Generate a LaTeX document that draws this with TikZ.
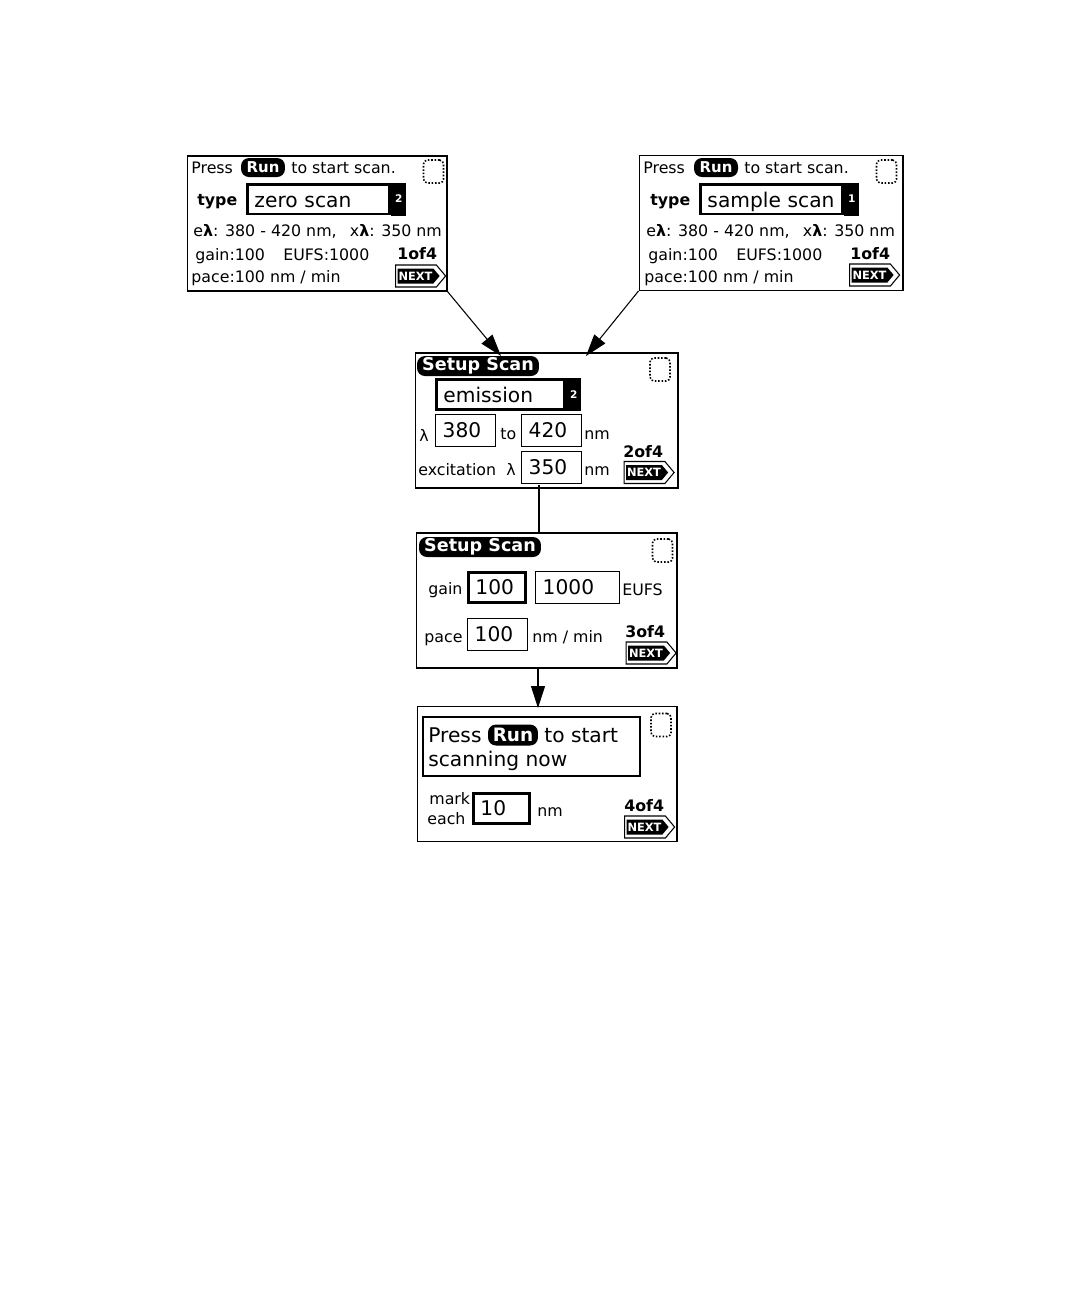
\documentclass[tikz,border=0pt]{standalone}
\usepackage{fontspec}
\setmainfont{DejaVu Sans}
\usetikzlibrary{positioning, arrows.meta, shapes.symbols}

\tikzset{
    panel/.style={draw, rectangle, line width=0.6pt, minimum width=#1, minimum height=2.7cm, inner sep=0pt},
    lbl/.style={anchor=west, inner sep=0pt, text height=0.23cm, text depth=0pt, font=\fontsize{9}{10}\selectfont},
    biglbl/.style={lbl, text height=0.29cm, font=\fontsize{11.5}{13}\selectfont},
    boldlbl/.style={lbl, text height=0.2cm, font=\fontsize{9}{10}\bfseries\selectfont},
    pill/.style={fill=black, text=white, rectangle, rounded corners=0.16cm, inner sep=0pt, font=\fontsize{8.5}{10}\bfseries\selectfont},
    setuppill/.style={pill, minimum width=2.44cm, minimum height=0.4cm, font=\fontsize{10}{11}\bfseries\selectfont},
    tickbox/.style={draw, densely dotted, line width=0.9pt, rectangle, rounded corners=0.08cm, minimum width=0.4cm, minimum height=0.46cm, inner sep=0pt},
    valbox/.style={draw, rectangle, line width=0.8pt, anchor=west, text width=#1, inner xsep=0.14cm, inner ysep=0pt, minimum height=0.64cm, font=\fontsize{11.5}{13}\selectfont},
    boldbox/.style={valbox=#1, line width=1.7pt, minimum height=0.6cm},
    listbox/.style={boldbox=#1, text height=0.32cm, text depth=0pt},
    listtab/.style={fill=black, text=white, rectangle, minimum width=0.3cm, minimum height=0.66cm, inner sep=0pt, font=\fontsize{6}{7}\bfseries\selectfont},
    flow/.style={-{Triangle[length=0.44cm, width=0.28cm]}, line width=0.6pt},
    pics/nextbtn/.style={code={
        \node[draw, signal, signal to=east, signal pointer angle=100, line width=0.6pt, minimum width=1cm, minimum height=0.44cm, inner sep=0pt] (-outer) at (0,0) {};
        \node[fill=black, text=white, signal, signal to=east, signal pointer angle=100, minimum width=0.84cm, minimum height=0.3cm, inner sep=0pt, font=\fontsize{6.5}{7}\bfseries\selectfont] (-inner) at (-0.5,0) {NEXT};
    }},
}

\begin{document}
\begin{tikzpicture}[x=0.02cm, y=-0.02cm]
    \useasboundingbox (0,0) rectangle (1080,1296);

    % Zero scan panel
    \node[panel=5.2cm] (panelzero) at (317,223.5) {};
    \node[lbl] (presszero) at (191,168) {Press};
    \node[pill, minimum width=0.88cm, minimum height=0.38cm] (runzero) at (263,167.5) {Run};
    \node[lbl] (startzero) at (291,168) {to start scan.};
    \node[tickbox] (tickzero) at (433.5,171.5) {};
    \node[boldlbl] (typezero) at (197,200) {type};
    \node[listbox=2.56cm] (listzero) at (246,199) {zero scan};
    \node[listtab, right=0pt of listzero] (tabzero) {2};
    \node[lbl] (rangezero) at (193,231) {e\textbf{λ}: 380 - 420 nm,\enspace\kern3pt x\textbf{λ}: 350 nm};
    \node[lbl] (gainzero) at (195,255) {gain:100};
    \node[lbl] (eufszero) at (283,255) {EUFS:1000};
    \node[boldlbl] (pagezero) at (397,254) {1of4};
    \pic (nextzero) at (416,276) {nextbtn};
    \node[lbl] (pacezero) at (191,277) {pace:100 nm / min};

    % Sample scan panel
    \node[panel=5.28cm] (panelsample) at (771,223) {};
    \node[lbl] (presssample) at (643,168) {Press};
    \node[pill, minimum width=0.88cm, minimum height=0.38cm] (runsample) at (716,167.5) {Run};
    \node[lbl] (startsample) at (744,168) {to start scan.};
    \node[tickbox] (ticksample) at (886.5,171.5) {};
    \node[boldlbl] (typesample) at (650,200) {type};
    \node[listbox=2.56cm] (listsample) at (699,199) {sample scan};
    \node[listtab, right=0pt of listsample] (tabsample) {1};
    \node[lbl] (rangesample) at (646,231) {e\textbf{λ}: 380 - 420 nm,\enspace\kern3pt x\textbf{λ}: 350 nm};
    \node[lbl] (gainsample) at (648,255) {gain:100};
    \node[lbl] (eufssample) at (736,255) {EUFS:1000};
    \node[boldlbl] (pagesample) at (850,254) {1of4};
    \pic (nextsample) at (870,275) {nextbtn};
    \node[lbl] (pacesample) at (644,277) {pace:100 nm / min};

    % Range panel
    \node[panel=5.26cm] (panelrange) at (546.5,420.5) {};
    \node[setuppill] (setuprange) at (478,366) {Setup Scan};
    \node[tickbox] (tickrange) at (660,369.5) {};
    \node[listbox=2.28cm] (listrange) at (435,394.5) {emission};
    \node[listtab, right=0pt of listrange] (tabrange) {2};
    \node[lbl] (lambdarange) at (419,436) {λ};
    \node[valbox=0.92cm] (fromrange) at (435,430.5) {380};
    \node[lbl] (torange) at (500,434) {to};
    \node[valbox=0.92cm] (endrange) at (521,430.5) {420};
    \node[lbl] (nmrange) at (584,434) {nm};
    \node[lbl] (excitrange) at (418,470) {excitation\kern3pt\ λ};
    \node[valbox=0.92cm] (excitbox) at (521,467.5) {350};
    \node[lbl] (nmexcit) at (584,470) {nm};
    \node[boldlbl] (pagerange) at (623,452) {2of4};
    \pic (nextrange) at (644.5,472.5) {nextbtn};

    % Gain panel
    \node[panel=5.22cm] (panelgain) at (546.5,600.5) {};
    \node[setuppill] (setupgain) at (480,547) {Setup Scan};
    \node[tickbox] (tickgain) at (662.5,550.5) {};
    \node[lbl] (gainlbl) at (428,589) {gain};
    \node[boldbox=0.86cm] (gainbox) at (467,587.5) {100};
    \node[valbox=1.4cm] (eufsbox) at (535,587.5) {1000};
    \node[lbl] (eufslbl) at (622,590) {EUFS};
    \node[lbl] (pacelbl) at (424,637) {pace};
    \node[valbox=0.92cm] (pacebox) at (467,634.5) {100};
    \node[lbl] (pacenm) at (532,637) {nm / min};
    \node[boldlbl] (pagegain) at (625,632) {3of4};
    \pic (nextgain) at (646.5,653) {nextbtn};

    % Run panel
    \node[panel=5.2cm] (panelrun) at (547,774) {};
    \node[draw, rectangle, line width=0.8pt, minimum width=4.34cm, minimum height=1.18cm] (msgbox) at (531.5,746.5) {};
    \node[biglbl] (pressrun) at (428,735) {Press};
    \node[pill, minimum width=1cm, minimum height=0.42cm, font=\fontsize{10.5}{12}\bfseries\selectfont] (runrun) at (513,735) {Run};
    \node[biglbl] (startrun) at (544,735) {to start};
    \node[biglbl] (scanrun) at (428,759) {scanning now};
    \node[tickbox] (tickrun) at (661,725) {};
    \node[lbl] (marklbl) at (429,799) {mark};
    \node[lbl] (eachlbl) at (427,819) {each};
    \node[boldbox=0.84cm] (markbox) at (472,808) {10};
    \node[lbl] (marknm) at (537,811) {nm};
    \node[boldlbl] (pagerun) at (624,806) {4of4};
    \pic (nextrun) at (645,827) {nextbtn};

    % Connectors
    \coordinate (tipzero) at (501,356);
    \coordinate (tipsample) at (586,356);
    \coordinate (rangeout) at (539,485);
    \coordinate (gainin) at (539,533);
    \coordinate (gainout) at (538,668);
    \coordinate (runin) at (538,708);
    \draw[flow] (panelzero.south east) -- (tipzero);
    \draw[flow] (panelsample.south west) -- (tipsample);
    \draw[line width=0.6pt] (rangeout) -- (gainin);
    \draw[flow] (gainout) -- (runin);
\end{tikzpicture}
\end{document}
